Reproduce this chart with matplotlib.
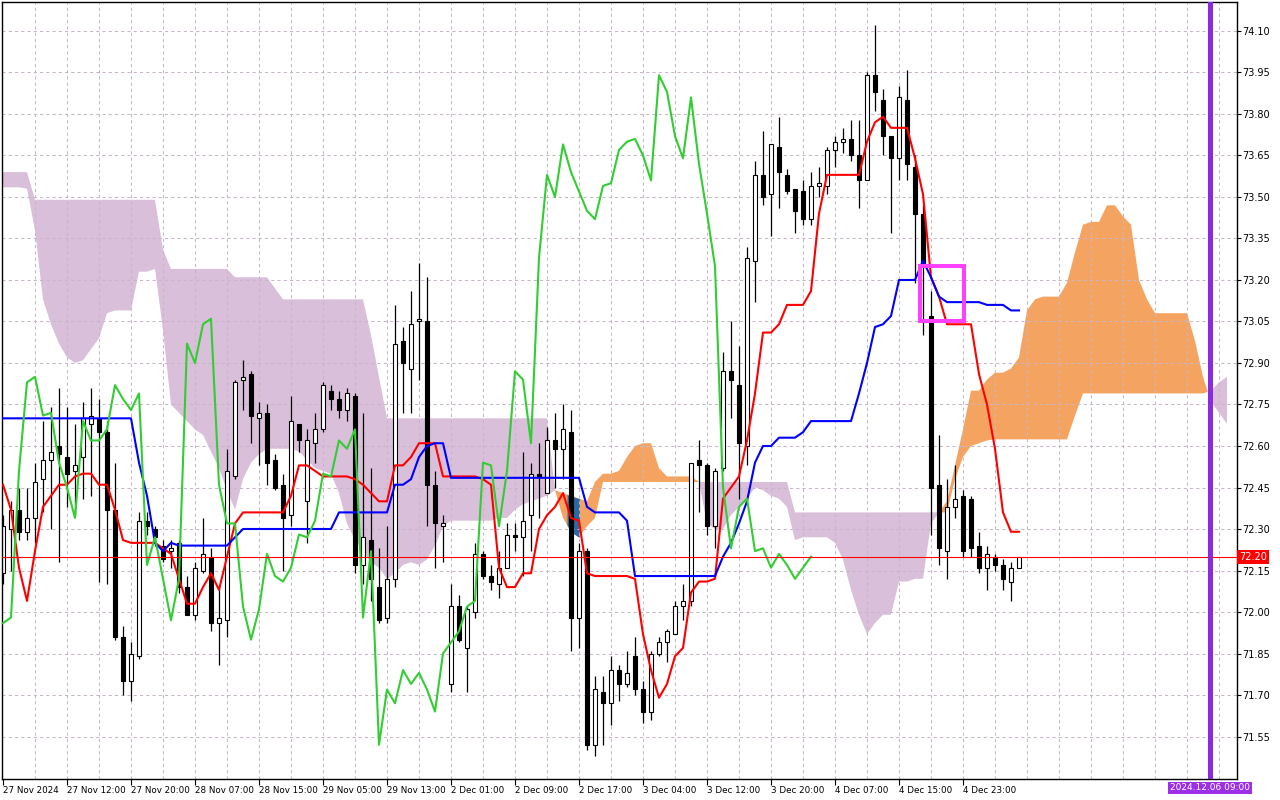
import numpy as np
import matplotlib
matplotlib.use('Agg')
import matplotlib.pyplot as plt
from matplotlib.patches import Rectangle
import matplotlib.transforms as mtransforms

# H1 candles, bar index 0..127
opens = [72.14, 72.30, 72.37, 72.29, 72.34, 72.48, 72.55, 72.60, 72.56, 72.51,
         72.56, 72.68, 72.70, 72.65, 72.37, 71.91, 71.75, 71.84, 72.33, 72.30,
         72.24, 72.22, 72.25, 72.09, 71.99, 72.15, 72.20, 71.96, 71.97, 72.49,
         72.84, 72.86, 72.70, 72.72, 72.55, 72.46, 72.35, 72.68, 72.40, 72.61,
         72.66, 72.80, 72.77, 72.73, 72.78, 72.17, 72.26, 72.09, 71.98, 72.12,
         72.98, 72.88, 73.05, 73.05, 72.46, 72.31, 71.74, 72.02, 71.87, 72.00,
         72.21, 72.13, 72.10, 72.16, 72.28, 72.27, 72.35, 72.50, 72.43, 72.62,
         72.59, 72.65, 71.98, 72.22, 71.52, 71.71, 71.67, 71.79, 71.74, 71.84,
         71.72, 71.64, 71.85, 71.89, 71.92, 72.02, 72.04, 72.55, 72.53, 72.31,
         72.52, 72.87, 72.82, 72.60, 73.27, 73.58, 73.51, 73.68, 73.58, 73.53,
         73.52, 73.42, 73.54, 73.54, 73.67, 73.70, 73.71, 73.65, 73.56, 73.94,
         73.85, 73.72, 73.64, 73.85, 73.61, 73.44, 73.07, 72.46, 72.22, 72.38,
         72.42, 72.41, 72.24, 72.16, 72.20, 72.17, 72.11, 72.16]
highs = [72.35, 72.40, 72.45, 72.45, 72.54, 72.69, 72.74, 72.81, 72.74, 72.68,
         72.76, 72.81, 72.77, 72.69, 72.54, 71.95, 71.89, 72.36, 72.36, 72.31,
         72.26, 72.26, 72.26, 72.13, 72.18, 72.34, 72.23, 72.09, 72.59, 72.84,
         72.91, 72.87, 72.76, 72.75, 72.57, 72.50, 72.78, 72.68, 72.66, 72.72,
         72.83, 72.82, 72.80, 72.81, 72.79, 72.72, 72.52, 72.23, 72.31, 73.11,
         73.03, 73.16, 73.26, 73.21, 72.51, 72.35, 72.10, 72.06, 72.02, 72.25,
         72.22, 72.17, 72.22, 72.32, 72.32, 72.58, 72.54, 72.61, 72.67, 72.72,
         72.75, 72.73, 72.25, 72.23, 71.77, 71.77, 71.84, 71.81, 71.86, 71.91,
         71.75, 71.86, 71.91, 71.94, 72.04, 72.10, 72.54, 72.62, 72.54, 72.52,
         72.94, 73.05, 72.96, 73.32, 73.63, 73.74, 73.69, 73.79, 73.60, 73.53,
         73.56, 73.59, 73.61, 73.68, 73.72, 73.75, 73.78, 73.78, 73.95, 74.12,
         73.89, 73.72, 73.90, 73.96, 73.65, 73.47, 73.16, 72.64, 72.48, 72.53,
         72.44, 72.42, 72.29, 72.24, 72.21, 72.19, 72.18, 72.20]
lows = [72.10, 72.15, 72.26, 72.26, 72.25, 72.36, 72.30, 72.18, 72.38, 72.35,
        72.41, 72.42, 72.11, 72.10, 71.90, 71.70, 71.68, 71.83, 72.28, 72.24,
        72.18, 72.16, 72.07, 71.99, 71.97, 72.14, 71.93, 71.81, 71.91, 72.48,
        72.73, 72.61, 72.53, 72.46, 72.44, 72.15, 72.31, 72.58, 72.25, 72.54,
        72.65, 72.73, 72.70, 72.69, 72.14, 72.10, 72.04, 71.96, 71.96, 72.09,
        72.72, 72.72, 72.84, 72.31, 72.16, 72.18, 71.71, 71.89, 71.71, 71.98,
        72.12, 72.08, 72.05, 72.16, 72.22, 72.13, 72.22, 72.34, 72.43, 72.45,
        72.48, 71.86, 71.87, 71.50, 71.48, 71.52, 71.59, 71.68, 71.73, 71.70,
        71.60, 71.61, 71.84, 71.82, 71.92, 71.97, 72.02, 72.36, 72.28, 72.23,
        72.51, 72.70, 72.41, 72.53, 73.12, 73.47, 73.36, 73.46, 73.51, 73.37,
        73.40, 73.40, 73.50, 73.51, 73.61, 73.66, 73.63, 73.46, 73.56, 73.81,
        73.65, 73.37, 73.56, 73.56, 73.19, 73.00, 72.28, 72.17, 72.12, 72.34,
        72.20, 72.20, 72.14, 72.08, 72.15, 72.08, 72.04, 72.16]
closes = [72.31, 72.37, 72.29, 72.34, 72.47, 72.55, 72.58, 72.57, 72.50, 72.53,
          72.70, 72.71, 72.65, 72.37, 71.91, 71.75, 71.85, 72.33, 72.31, 72.27,
          72.19, 72.23, 72.09, 71.99, 72.16, 72.21, 71.96, 71.98, 72.51, 72.83,
          72.85, 72.71, 72.72, 72.54, 72.45, 72.34, 72.69, 72.62, 72.62, 72.66,
          72.82, 72.77, 72.73, 72.79, 72.17, 72.27, 72.12, 71.97, 72.12, 72.97,
          72.90, 73.04, 73.06, 72.46, 72.32, 72.32, 72.02, 71.90, 72.01, 72.21,
          72.13, 72.11, 72.16, 72.28, 72.27, 72.33, 72.50, 72.49, 72.62, 72.59,
          72.66, 71.98, 72.22, 71.52, 71.72, 71.67, 71.79, 71.74, 71.78, 71.72,
          71.64, 71.85, 71.89, 71.93, 72.02, 72.04, 72.54, 72.53, 72.31, 72.51,
          72.87, 72.84, 72.61, 73.28, 73.58, 73.50, 73.69, 73.59, 73.52, 73.45,
          73.42, 73.54, 73.55, 73.67, 73.70, 73.71, 73.65, 73.56, 73.94, 73.88,
          73.72, 73.64, 73.86, 73.62, 73.44, 73.25, 72.45, 72.23, 72.38, 72.41,
          72.22, 72.23, 72.16, 72.21, 72.17, 72.12, 72.16, 72.20]

# ichimoku lines
tenkan = [72.46, 72.37, 72.16, 72.04, 72.22, 72.38, 72.42, 72.46, 72.46, 72.49,
          72.50, 72.50, 72.46, 72.46, 72.37, 72.26, 72.25, 72.25, 72.25, 72.25,
          72.23, 72.21, 72.12, 72.03, 72.03, 72.09, 72.14, 72.08, 72.20, 72.32,
          72.36, 72.36, 72.36, 72.36, 72.36, 72.36, 72.42, 72.53, 72.53, 72.51,
          72.49, 72.49, 72.49, 72.49, 72.48, 72.46, 72.43, 72.40, 72.40, 72.53,
          72.53, 72.56, 72.61, 72.61, 72.61, 72.49, 72.49, 72.49, 72.49, 72.49,
          72.48, 72.46, 72.16, 72.09, 72.09, 72.14, 72.14, 72.30, 72.35, 72.38,
          72.43, 72.34, 72.33, 72.14, 72.13, 72.13, 72.13, 72.13, 72.13, 72.12,
          71.92, 71.79, 71.69, 71.74, 71.84, 71.87, 72.07, 72.11, 72.11, 72.12,
          72.41, 72.45, 72.49, 72.62, 72.79, 73.01, 73.01, 73.04, 73.11, 73.11,
          73.11, 73.16, 73.44, 73.58, 73.58, 73.58, 73.58, 73.58, 73.70, 73.77,
          73.79, 73.75, 73.75, 73.75, 73.64, 73.51, 73.21, 73.14, 73.04, 73.04,
          73.04, 73.04, 72.86, 72.75, 72.59, 72.36, 72.29, 72.29]
kijun = [72.70] * 17 + [72.54, 72.42, 72.25, 72.22, 72.25] + [72.24] * 7 + [72.27] \
    + [72.30] * 12 + [72.36] * 7 + [72.46, 72.46, 72.48, 72.56, 72.60, 72.61, 72.61] \
    + [72.485] * 17 + [72.38, 72.36, 72.36, 72.36, 72.36, 72.33] + [72.13] * 11 \
    + [72.20, 72.25, 72.32, 72.40, 72.54, 72.60, 72.60, 72.63, 72.63, 72.63, 72.65] \
    + [72.69] * 6 + [72.79, 72.90, 73.03, 73.04, 73.07, 73.20, 73.20, 73.20, 73.27,
                     73.21, 73.14, 73.12, 73.12, 73.12, 73.12, 73.12, 73.11, 73.11,
                     73.11, 73.09, 73.09]

# senkou spans, shifted 26 bars ahead (index 0..153)
span_a = [73.535, 73.535, 73.535, 73.53, 73.38, 73.13, 73.04, 72.97, 72.92, 72.90,
          72.91, 72.95, 72.99, 73.08, 73.09, 73.09, 73.09, 73.23, 73.23, 73.24,
          73.02, 72.75, 72.72, 72.69, 72.66, 72.64, 72.58, 72.52, 72.44, 72.37,
          72.48, 72.54, 72.57, 72.59, 72.59, 72.59, 72.59, 72.58, 72.55, 72.52,
          72.51, 72.50, 72.43, 72.32, 72.26, 72.22, 72.18, 72.16, 72.12, 72.14,
          72.17, 72.18, 72.17, 72.19, 72.24, 72.31, 72.33, 72.33, 72.33, 72.33,
          72.33, 72.33, 72.34, 72.34, 72.37, 72.39, 72.40, 72.41, 72.42, 72.44,
          72.43, 72.42, 72.41, 72.40, 72.47, 72.50, 72.50, 72.51, 72.56, 72.60,
          72.61, 72.61, 72.52, 72.49, 72.49, 72.49, 72.49, 72.47, 72.32, 72.30,
          72.30, 72.35, 72.38, 72.41, 72.45, 72.44, 72.42, 72.41, 72.38, 72.26,
          72.27, 72.27, 72.27, 72.27, 72.25, 72.19, 72.08, 71.99, 71.92, 71.96,
          71.99, 71.99, 72.11, 72.11, 72.12, 72.12, 72.32, 72.36, 72.40, 72.53,
          72.66, 72.80, 72.80, 72.84, 72.865, 72.865, 72.88, 72.92, 73.09, 73.13,
          73.14, 73.14, 73.14, 73.19, 73.30, 73.40, 73.41, 73.41, 73.47, 73.47,
          73.43, 73.40, 73.20, 73.13, 73.08, 73.08, 73.08, 73.08, 73.08, 72.98,
          72.85, 72.76, 72.72, 72.68]
span_b = [73.59] * 4 + [73.49] * 16 + [73.31] + [73.24] * 8 + [73.21] * 5 + [73.17] \
    + [73.13] * 11 + [73.00, 72.85] + [72.70] * 21 \
    + [72.44, 72.34, 72.29, 72.27, 72.31, 72.34] + [72.47] * 24 + [72.36] * 20 \
    + [72.48, 72.56, 72.60, 72.61, 72.62] + [72.624] * 10 + [72.71] + [72.79] * 16 \
    + [72.80, 72.83, 72.85]

time_labels = ['27 Nov 2024', '27 Nov 12:00', '27 Nov 20:00', '28 Nov 07:00',
               '28 Nov 15:00', '29 Nov 05:00', '29 Nov 13:00', '2 Dec 01:00',
               '2 Dec 09:00', '2 Dec 17:00', '3 Dec 04:00', '3 Dec 12:00',
               '3 Dec 20:00', '4 Dec 07:00', '4 Dec 15:00', '4 Dec 23:00']
price_ticks = [71.55, 71.70, 71.85, 72.00, 72.15, 72.30, 72.45, 72.60, 72.75,
               72.90, 73.05, 73.20, 73.35, 73.50, 73.65, 73.80, 73.95, 74.10]
last_price = 72.20
vline_bar = 150.9
vline_text = '2024.12.06 09:00'
# highlight box (bar range, price range)
box_x = (114.6, 120.1)
box_y = (73.05, 73.25)

plt.rcParams['font.family'] = 'DejaVu Sans'

fig = plt.figure(figsize=(12.8, 8), dpi=100)
ax = fig.add_axes([2 / 1280, 1 - 779 / 800, 1235 / 1280, 777 / 800])
ax.set_xlim(-0.125, 154.25)
ax.set_ylim(71.3964, 74.2048)

# kumo cloud
xc = np.arange(len(span_a))
a = np.array(span_a)
b = np.array(span_b)
ax.fill_between(xc, a, b, where=a >= b, interpolate=True, color='#f4a460', lw=0, zorder=1)
ax.fill_between(xc, a, b, where=b >= a, interpolate=True, color='#dabfda', lw=0, zorder=1)
# dark patch where the big candle cuts through the cloud
xs = np.linspace(70.5, 72.05, 20)
ax.fill_between(xs, np.interp(xs, xc, a), np.interp(xs, xc, b), color='#2b6aa6', lw=0, zorder=1.2)

# grid
for p in price_ticks:
    ax.axhline(p, color='#c6b6c8', lw=0.75, ls=(0, (3, 3)), zorder=1.5)
for gx in range(4, 155, 4):
    ax.axvline(gx, color='#c6b6c8', lw=0.75, ls=(0, (3, 3)), zorder=1.5)

# candles
xb = np.arange(len(closes))
o = np.array(opens)
c = np.array(closes)
ax.vlines(xb, lows, highs, color='black', lw=0.9, zorder=2)
up = c >= o
bottom = np.minimum(o, c)
height = np.maximum(np.abs(c - o), 0.004)
ax.bar(xb[up], height[up], bottom=bottom[up], width=0.62, color='white',
       edgecolor='black', lw=0.8, zorder=2.1)
ax.bar(xb[~up], height[~up], bottom=bottom[~up], width=0.62, color='black',
       edgecolor='black', lw=0.8, zorder=2.1)

# lines
ax.plot(xb, tenkan, color='#ff0000', lw=1.5, zorder=3)
ax.plot(xb, kijun, color='#0000ff', lw=1.5, zorder=3)
ax.plot(xb[:-26], closes[26:], color='#32cd32', lw=1.5, zorder=3)

# last price line and label
ax.axhline(last_price, color='#ff0000', lw=0.8, zorder=3.5)
trans = mtransforms.blended_transform_factory(ax.transAxes, ax.transData)
ax.text(1.0015, last_price, f'{last_price:.2f}', transform=trans, ha='left', va='center',
        fontsize=7, color='white', zorder=5, clip_on=False,
        bbox=dict(boxstyle='square,pad=0.2', fc='#ff0000', ec='none'))

# vertical marker
ax.axvline(vline_bar, color='#8a2be2', lw=3.6, zorder=4)
trans2 = mtransforms.blended_transform_factory(ax.transData, ax.transAxes)
ax.text(vline_bar, -0.0115, vline_text, transform=trans2, ha='center', va='center',
        fontsize=6.5, color='white', clip_on=False,
        bbox=dict(boxstyle='square,pad=0.2', fc='#9b30e8', ec='none'))

# highlight box
ax.add_patch(Rectangle((box_x[0], box_y[0]), box_x[1] - box_x[0], box_y[1] - box_y[0],
                       fill=False, edgecolor='#ff40ff', lw=2.9, zorder=4.5))

# axes styling
ax.yaxis.tick_right()
ax.set_yticks(price_ticks)
ax.set_yticklabels([f'{p:.2f}' for p in price_ticks])
ax.tick_params(axis='y', direction='out', length=3, width=0.8, pad=1, labelsize=7)
ax.set_xticks(range(0, 8 * len(time_labels), 8))
ax.set_xticklabels(time_labels, ha='left')
ax.tick_params(axis='x', direction='out', length=4, width=0.8, pad=1, labelsize=6.3)
for s in ax.spines.values():
    s.set_color('black')
    s.set_linewidth(1.0)

fig.savefig('out.png', dpi=100)
